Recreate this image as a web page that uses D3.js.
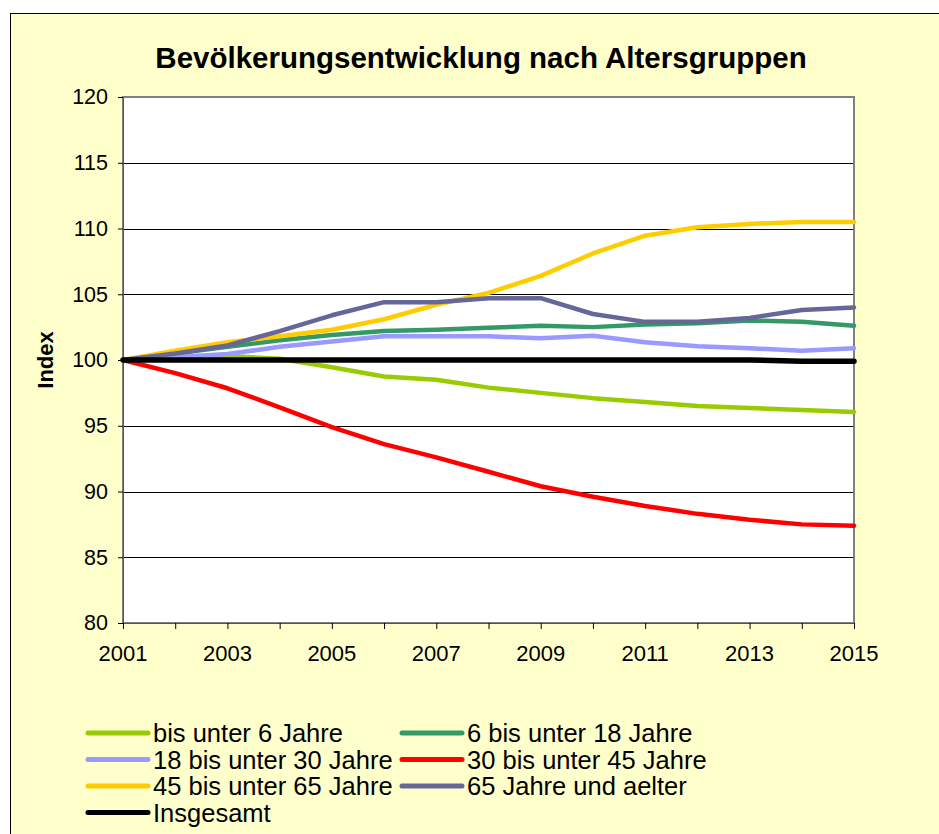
<!DOCTYPE html>
<html>
<head>
<meta charset="utf-8">
<script src="https://cdn.jsdelivr.net/npm/d3@7/dist/d3.min.js"></script>
<style>
  body { margin: 0; background: #fff; }
  text { font-family: "Liberation Sans", Arial, sans-serif; fill: #000; }
</style>
</head>
<body>
<div id="chart"></div>
<script>
// Data (index, 2001 = 100)
const years = [2001, 2002, 2003, 2004, 2005, 2006, 2007, 2008, 2009, 2010, 2011, 2012, 2013, 2014, 2015];
const yearTicks = [2001, 2003, 2005, 2007, 2009, 2011, 2013, 2015];
const indexTicks = [80, 85, 90, 95, 100, 105, 110, 115, 120];

const under6 = [100, 100.3, 100.3, 100.1, 99.45, 98.75, 98.5, 97.9, 97.5, 97.1, 96.8, 96.5, 96.35, 96.2, 96.05];
const age6to18 = [100, 100.5, 101.0, 101.5, 101.9, 102.2, 102.3, 102.45, 102.6, 102.5, 102.7, 102.8, 103.0, 102.9, 102.6];
const age18to30 = [100, 100.2, 100.45, 101.0, 101.4, 101.8, 101.8, 101.8, 101.65, 101.85, 101.35, 101.05, 100.9, 100.7, 100.9];
const age30to45 = [100, 99.0, 97.85, 96.4, 94.9, 93.6, 92.6, 91.5, 90.4, 89.6, 88.9, 88.3, 87.85, 87.5, 87.4];
const age45to65 = [100, 100.7, 101.35, 101.8, 102.3, 103.1, 104.2, 105.1, 106.4, 108.1, 109.45, 110.1, 110.35, 110.5, 110.5];
const age65plus = [100, 100.5, 101.1, 102.2, 103.4, 104.4, 104.4, 104.7, 104.7, 103.5, 102.9, 102.9, 103.2, 103.8, 104.0];
const total = [100, 100, 100, 100, 100, 100, 100, 100, 100, 100, 100, 100, 100, 99.9, 99.9];

const seriesNames = ['bis unter 6 Jahre', '6 bis unter 18 Jahre', '18 bis unter 30 Jahre',
  '30 bis unter 45 Jahre', '45 bis unter 65 Jahre', '65 Jahre und aelter', 'Insgesamt'];
const seriesValues = [under6, age6to18, age18to30, age30to45, age45to65, age65plus, total];
const seriesColors = ['#99cc00', '#339966', '#9999ff', '#ff0000', '#ffcc00', '#666699', '#000000'];

const width = 939, height = 834;
const plot = {left: 123, right: 854, top: 97, bottom: 623};

const svg = d3.select('#chart').append('svg')
  .attr('width', width)
  .attr('height', height);

// outer chart area
svg.append('rect')
  .attr('x', 10.5).attr('y', 13.5)
  .attr('width', 940).attr('height', 830)
  .attr('fill', '#ffffcc')
  .attr('stroke', '#000')
  .attr('stroke-width', 1);

svg.append('rect')
  .attr('x', plot.left).attr('y', plot.top)
  .attr('width', plot.right - plot.left).attr('height', plot.bottom - plot.top)
  .attr('fill', '#fff');

const x = d3.scaleLinear().domain([2001, 2015]).range([plot.left, plot.right]);
const y = d3.scaleLinear().domain([80, 120]).range([plot.bottom, plot.top]);

// gridlines
svg.append('g')
  .selectAll('line')
  .data(indexTicks.filter(d => d > 80 && d < 120))
  .enter().append('line')
    .attr('x1', plot.left).attr('x2', plot.right)
    .attr('y1', d => Math.round(y(d)) + 0.5).attr('y2', d => Math.round(y(d)) + 0.5)
    .attr('stroke', '#000')
    .attr('stroke-width', 1);

// plot border
svg.append('rect')
  .attr('x', plot.left).attr('y', plot.top)
  .attr('width', plot.right - plot.left).attr('height', plot.bottom - plot.top)
  .attr('fill', 'none')
  .attr('stroke', '#808080')
  .attr('stroke-width', 2);

// axes
const yAxis = svg.append('g')
  .attr('transform', 'translate(' + plot.left + ',0)')
  .call(d3.axisLeft(y).tickValues(indexTicks).tickSize(5).tickPadding(10));
yAxis.select('.domain').attr('stroke', '#555');
yAxis.selectAll('text').style('font-size', '21.5px');

const xAxis = svg.append('g')
  .attr('transform', 'translate(0,' + plot.bottom + ')')
  .call(d3.axisBottom(x).tickValues(years).tickSize(6).tickFormat(''));
xAxis.select('.domain').attr('stroke', '#555');

svg.append('g')
  .selectAll('text')
  .data(yearTicks)
  .enter().append('text')
    .attr('x', d => x(d))
    .attr('y', 661)
    .attr('text-anchor', 'middle')
    .style('font-size', '22px')
    .text(d => d);

// lines
const line = d3.line()
  .x((d, i) => x(years[i]))
  .y(d => y(d));

svg.append('g')
  .selectAll('path')
  .data(seriesValues)
  .enter().append('path')
    .attr('d', d => line(d))
    .attr('fill', 'none')
    .attr('stroke', (d, i) => seriesColors[i])
    .attr('stroke-width', (d, i) => i === 6 ? 5.5 : 4.5)
    .attr('stroke-linejoin', 'round')
    .attr('stroke-linecap', 'round');

// title and axis label
svg.append('text')
  .attr('x', 481).attr('y', 68)
  .attr('text-anchor', 'middle')
  .style('font-size', '29.5px')
  .style('font-weight', 'bold')
  .text('Bevölkerungsentwicklung nach Altersgruppen');

svg.append('text')
  .attr('transform', 'translate(53,360) rotate(-90)')
  .attr('text-anchor', 'middle')
  .style('font-size', '22px')
  .style('font-weight', 'bold')
  .text('Index');

// legend
const legend = svg.append('g')
  .selectAll('g')
  .data(seriesNames)
  .enter().append('g')
    .attr('transform', (d, i) => 'translate(' + (i % 2 ? 402 : 88) + ',' + (733 + Math.floor(i / 2) * 26.5) + ')');

legend.append('line')
  .attr('x1', 0).attr('x2', 60)
  .attr('stroke', (d, i) => seriesColors[i])
  .attr('stroke-width', 5)
  .attr('stroke-linecap', 'round');

legend.append('text')
  .attr('x', 65).attr('y', 9)
  .style('font-size', '25.5px')
  .text(d => d);
</script>
</body>
</html>
